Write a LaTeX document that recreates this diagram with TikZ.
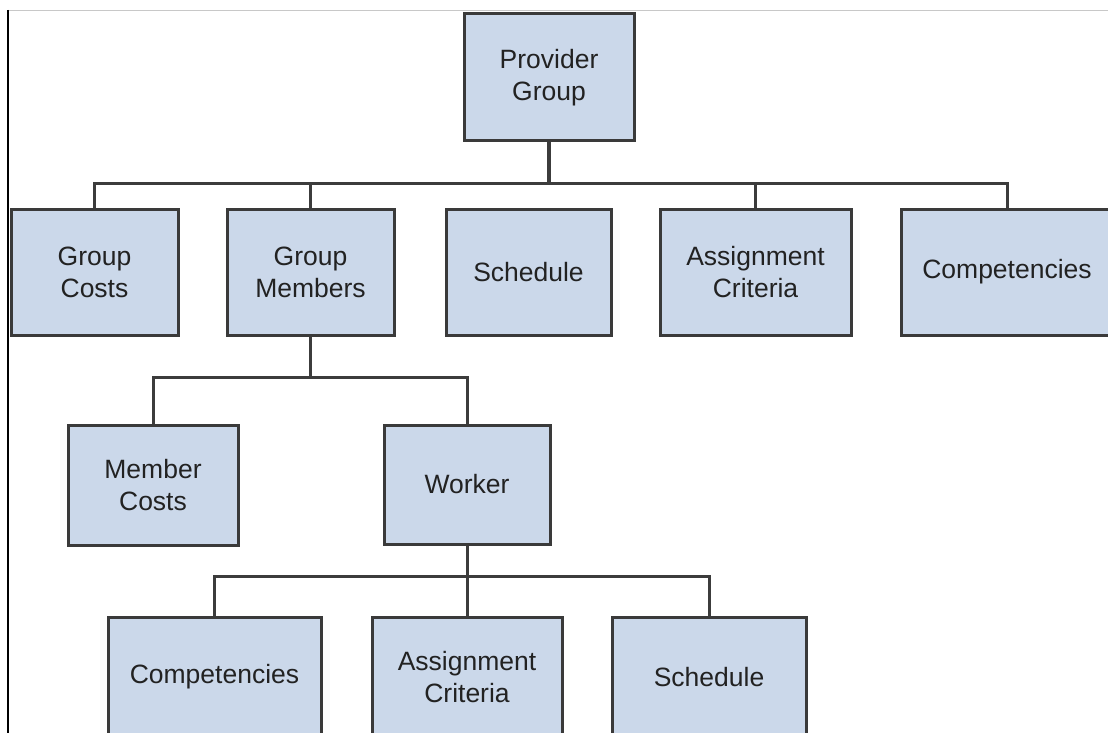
\documentclass[tikz,border=0pt]{standalone}
\usepackage{fontspec}
\setmainfont{Liberation Sans}
\definecolor{boxfill}{HTML}{CBD8EA}
\definecolor{boxline}{HTML}{3A3A3A}
\definecolor{linkline}{HTML}{3C3C3C}
\definecolor{labeltext}{HTML}{222222}
\definecolor{frametop}{HTML}{C8C8C8}
\tikzset{
  orgbox/.style={draw=boxline, line width=3pt, fill=boxfill, rectangle,
    inner sep=0pt, align=center, text=labeltext,
    font=\fontsize{26.5}{32}\selectfont},
  link/.style={draw=linkline, line width=3pt},
}
\begin{document}
\begin{tikzpicture}[x=1pt, y=-1pt]
  \useasboundingbox (0,0) rectangle (1108,733);
  % page frame: grey top rule, black left rule
  \draw[frametop, line width=1.2pt] (7,10.5) -- (1108,10.5);
  \draw[black, line width=2pt] (7.5,10) -- (7.5,733);

  % bus levels
  \coordinate (b1) at (0,183);
  \coordinate (b2) at (0,377);
  \coordinate (b3) at (0,576);

  % top
  \node[orgbox, minimum width=170pt, minimum height=127pt] (pg) at (549,77.5) {Provider\\Group};

  % first level
  \node[orgbox, minimum width=167pt, minimum height=126pt] (gc)  at (94.5,272) {Group\\Costs};
  \node[orgbox, minimum width=167pt, minimum height=126pt] (gm)  at (310.5,272) {Group\\Members};
  \node[orgbox, minimum width=165pt, minimum height=126pt] (sc1) at (528.5,272) {Schedule};
  \node[orgbox, minimum width=191pt, minimum height=126pt] (ac1) at (755.5,272) {Assignment\\Criteria};
  \node[orgbox, minimum width=212pt, minimum height=126pt] (cp1) at (1007,272) {Competencies};

  % second level
  \node[orgbox, minimum width=170pt, minimum height=120pt] (mc) at (153,485) {Member\\Costs};
  \node[orgbox, minimum width=166pt, minimum height=119pt] (wk) at (467,484.5) {Worker};

  % third level
  \node[orgbox, minimum width=213pt, minimum height=120pt] (cp2) at (214.5,677) {Competencies};
  \node[orgbox, minimum width=190pt, minimum height=120pt] (ac2) at (467,677) {Assignment\\Criteria};
  \node[orgbox, minimum width=194pt, minimum height=120pt] (sc2) at (709,677) {Schedule};

  % connectors, first level
  \draw[link, line width=3.6pt] (pg.south) -- (pg.south |- b1);
  \draw[link] (gc.north) -- (gc.north |- b1) -- (cp1.north |- b1) -- (cp1.north);
  \draw[link] (gm.north) -- (gm.north |- b1);
  \draw[link] (ac1.north) -- (ac1.north |- b1);

  % connectors, second level
  \draw[link] (gm.south) -- (gm.south |- b2);
  \draw[link] (mc.north) -- (mc.north |- b2) -- (wk.north |- b2) -- (wk.north);

  % connectors, third level
  \draw[link] (wk.south) -- (ac2.north);
  \draw[link] (cp2.north) -- (cp2.north |- b3) -- (sc2.north |- b3) -- (sc2.north);
\end{tikzpicture}
\end{document}
